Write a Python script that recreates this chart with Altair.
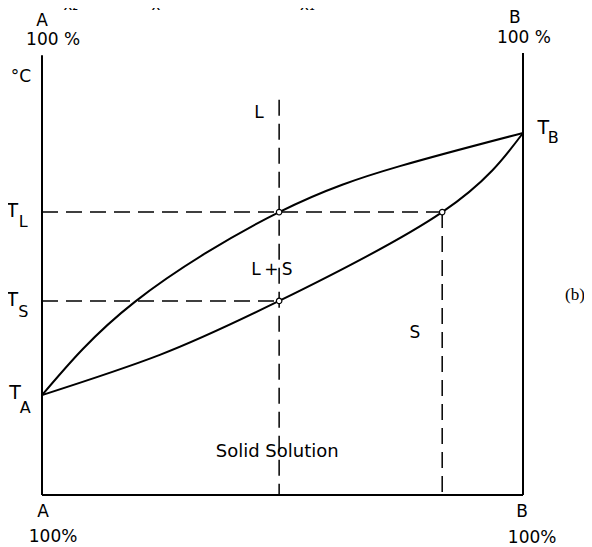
import altair as alt
import pandas as pd

# Composition (% B) and temperature (arbitrary units, 0 = bottom, 100 = axis top)
liq_x = [0, 19.3, 49.3, 74.4, 100]
liq_t = [22.6, 43.7, 64.0, 74.4, 81.9]
sol_x = [0, 24.5, 49.3, 83.2, 100]
sol_t = [22.6, 31.7, 43.9, 64.0, 81.9]

x_alloy = 49.3     # composition x
x_solid = 83.2     # composition of first solid at T_L
T_L = 64.0
T_S = 43.9

# dashed construction lines: x, y, x2, y2
dash_x = [0, 0, x_alloy, x_solid]
dash_y = [T_L, T_S, 89.4, T_L]
dash_x2 = [x_solid, x_alloy, x_alloy, x_solid]
dash_y2 = [T_L, T_S, 0, 0]

# frame lines
frame_x = [0, 100, 0]
frame_y = [0, 0, 0]
frame_x2 = [0, 100, 100]
frame_y2 = [99.5, 100, 0]

pts_x = [x_alloy, x_solid, x_alloy]
pts_y = [T_L, T_L, T_S]

# labels
lab_text = ["A", "100 %", "B", "100 %", "°C", "L", "L\u2009+\u2009S", "S", "Solid Solution",
            "A", "100%", "B", "100%", "x₂", "x", "x₁",
            "T", "L", "T", "S", "T", "A", "T", "B"]
lab_x = [0, 2.3, 98.3, 100.2, -4.4, 45.1, 47.8, 77.5, 48.9,
         0.2, 2.3, 99.8, 101.9, 6.0, 23.7, 55.2,
         -6.2, -3.9, -6.2, -3.9, -5.6, -3.5, 104.2, 106.3]
lab_y = [107.3, 103.0, 108.0, 103.4, 94.6, 86.4, 50.9, 36.7, 9.7,
         -3.8, -9.5, -3.8, -9.7, 110.9, 110.9, 110.9,
         64.2, 61.7, 44.1, 41.4, 23.1, 19.7, 83.0, 80.8]
lab_size = [17, 17, 17, 17, 17, 17, 17, 17, 18,
            17, 17, 17, 17, 15, 15, 15,
            19, 16, 19, 16, 19, 16, 19, 16]

xs = alt.Scale(domain=[0, 100], nice=False, zero=False)
ys = alt.Scale(domain=[0, 100], nice=False, zero=False)

curves = pd.DataFrame({
    "x": liq_x + sol_x,
    "t": liq_t + sol_t,
    "curve": ["liquidus"] * len(liq_x) + ["solidus"] * len(sol_x),
    "i": list(range(len(liq_x))) + list(range(len(sol_x))),
})
dashes = pd.DataFrame({"x": dash_x, "y": dash_y, "x2": dash_x2, "y2": dash_y2})
frame = pd.DataFrame({"x": frame_x, "y": frame_y, "x2": frame_x2, "y2": frame_y2})
pts = pd.DataFrame({"x": pts_x, "y": pts_y})
labels = pd.DataFrame({"x": lab_x, "y": lab_y, "text": lab_text, "fs": lab_size})
blabel = pd.DataFrame({"x": [110.8], "y": [45.2], "text": ["(b)"]})

X = lambda f: alt.X(f, type="quantitative", scale=xs, axis=None)
Y = lambda f: alt.Y(f, type="quantitative", scale=ys, axis=None)

frame_layer = alt.Chart(frame).mark_rule(color="black", strokeWidth=2).encode(
    x=X("x"), y=Y("y"), x2="x2", y2="y2")

dash_layer = alt.Chart(dashes).mark_rule(color="black", strokeWidth=1.5, strokeDash=[16, 8]).encode(
    x=X("x"), y=Y("y"), x2="x2", y2="y2")

curve_layer = alt.Chart(curves).mark_line(color="black", strokeWidth=2, interpolate="natural").encode(
    x=X("x"), y=Y("t"), detail="curve:N", order="i:Q")

pt_layer = alt.Chart(pts).mark_point(shape="circle", filled=True, fill="white", stroke="black",
                                     strokeWidth=1.2, size=30, opacity=1).encode(
    x=X("x"), y=Y("y"))

text_layer = alt.Chart(labels).mark_text(font="DejaVu Sans", color="black", align="center",
                                         baseline="middle").encode(
    x=X("x"), y=Y("y"), text="text:N", size=alt.Size("fs:Q", scale=None, legend=None))

b_layer = alt.Chart(blabel).mark_text(font="Liberation Serif", fontSize=17, color="black",
                                      align="center", baseline="middle").encode(
    x=X("x"), y=Y("y"), text="text:N")

chart = alt.layer(frame_layer, dash_layer, curve_layer, pt_layer, text_layer, b_layer).properties(
    width=481, height=442,
    padding={"left": 34, "top": 45, "right": 61, "bottom": 52},
    autosize=alt.AutoSizeParams(type="none"),
    background="white",
).configure_view(stroke=None)

chart.save("out.html", embed_options={"renderer": "svg", "actions": False})
